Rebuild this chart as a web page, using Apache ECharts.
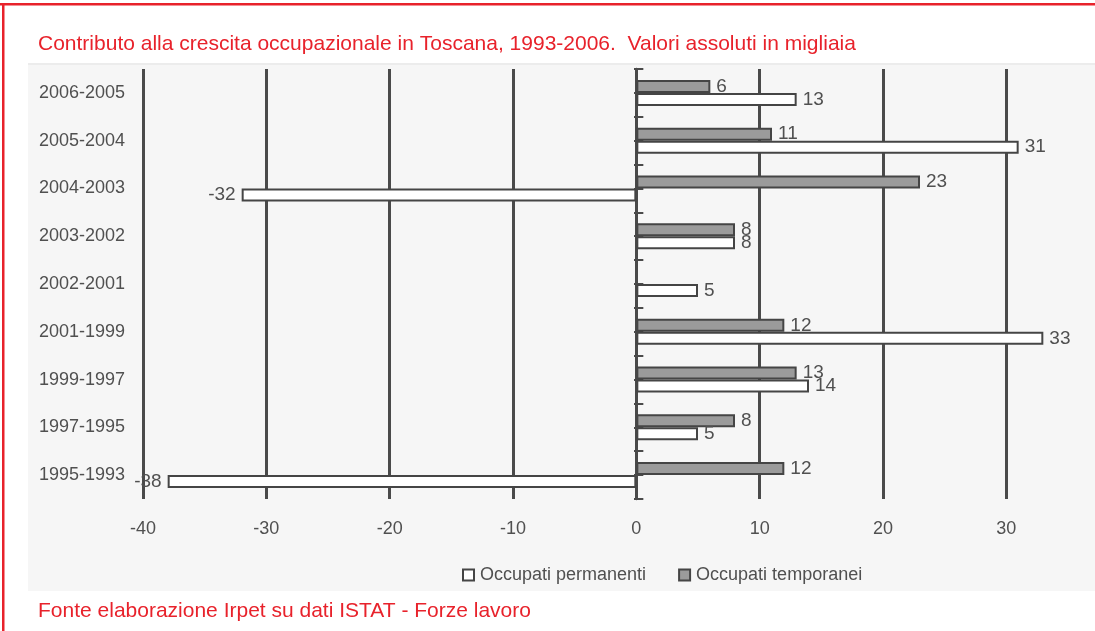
<!DOCTYPE html>
<html>
<head>
<meta charset="utf-8">
<script src="https://cdn.jsdelivr.net/npm/echarts@6/dist/echarts.min.js"></script>
<style>
html,body{margin:0;padding:0;background:#fff;}
#chart{width:1095px;height:631px;}
</style>
</head>
<body>
<div id="chart"></div>
<script>
const categories = ['2006-2005','2005-2004','2004-2003','2003-2002','2002-2001','2001-1999','1999-1997','1997-1995','1995-1993'];
const permanenti = [13, 31, -32, 8, 5, 33, 14, 5, -38];
const temporanei = [6, 11, 23, 8, null, 12, 13, 8, 12];
const seriesNames = ['Occupati permanenti', 'Occupati temporanei'];
const halfTicks = [0, 18];

const FONT = '"Liberation Sans",Arial,sans-serif';
const RED = '#e8222b';
const INK = '#505050';
const LINE = '#4a4a4a';

const GRID_LEFT = 143, GRID_RIGHT = 1068;

function toItems(arr) {
  return arr.map(v => v == null ? null : {
    value: v,
    label: { position: v < 0 ? 'left' : 'right' }
  });
}

const chart = echarts.init(document.getElementById('chart'), null, {renderer: 'canvas'});
chart.setOption({
  animation: false,
  backgroundColor: '#ffffff',
  title: [
    {
      text: 'Contributo alla crescita occupazionale in Toscana, 1993-2006.  Valori assoluti in migliaia',
      left: 33, top: 29,
      textStyle: { color: RED, fontSize: 21, fontWeight: 'normal', fontFamily: FONT }
    },
    {
      text: 'Fonte elaborazione Irpet su dati ISTAT - Forze lavoro',
      left: 33, top: 596,
      textStyle: { color: RED, fontSize: 21, fontWeight: 'normal', fontFamily: FONT }
    }
  ],
  graphic: [
    { type: 'rect', z: -100, silent: true, shape: { x: 28, y: 63, width: 1067, height: 528 }, style: { fill: '#f6f6f6' } },
    { type: 'rect', z: -99, silent: true, shape: { x: 28, y: 63, width: 1067, height: 2 }, style: { fill: '#ececec' } },
    { type: 'rect', z: 100, silent: true, shape: { x: 0, y: 3, width: 1095, height: 2.5 }, style: { fill: RED } },
    { type: 'rect', z: 100, silent: true, shape: { x: 2, y: 3, width: 2.5, height: 628 }, style: { fill: RED } }
  ],
  legend: {
    data: seriesNames,
    left: 457,
    top: 561,
    itemWidth: 11,
    itemHeight: 11,
    itemGap: 32,
    icon: 'rect',
    textStyle: { color: INK, fontSize: 18, fontFamily: FONT, padding: [0, 0, 0, 1] },
    selectedMode: false
  },
  grid: { left: GRID_LEFT, right: 1095 - GRID_RIGHT, top: 69, bottom: 631 - 499, containLabel: false },
  xAxis: {
    type: 'value',
    min: -40, max: 35, interval: 10,
    axisLine: { show: false },
    axisTick: { show: false },
    axisLabel: { color: INK, fontSize: 18, fontFamily: FONT, margin: 21, showMaxLabel: false },
    splitLine: { show: true, showMinLine: true, showMaxLine: false, lineStyle: { color: LINE, width: 3 } }
  },
  yAxis: [
    {
      type: 'category',
      data: categories,
      inverse: true,
      axisLine: { show: false, onZero: false },
      axisTick: { show: false },
      axisLabel: { color: INK, fontSize: 18, fontFamily: FONT, margin: 18 },
      splitLine: { show: false }
    },
    {
      type: 'value',
      min: halfTicks[0], max: halfTicks[1], interval: 1,
      axisLine: { show: true, onZero: true, onZeroAxisIndex: 0, lineStyle: { color: LINE, width: 2.5 } },
      axisTick: { show: true, inside: false, length: 7, lineStyle: { color: LINE, width: 2 } },
      axisLabel: { show: false },
      splitLine: { show: false }
    },
    {
      type: 'value',
      position: 'left',
      offset: -(634 - GRID_LEFT),
      min: halfTicks[0], max: halfTicks[1], interval: 1,
      axisLine: { show: false, onZero: false },
      axisTick: { show: true, inside: true, length: 8, lineStyle: { color: LINE, width: 2 } },
      axisLabel: { show: false },
      splitLine: { show: false }
    }
  ],
  series: [
    {
      name: seriesNames[1],
      type: 'bar',
      yAxisIndex: 0,
      data: toItems(temporanei),
      barWidth: 13,
      barGap: '0%',
      itemStyle: { color: '#9b9b9b', borderColor: '#454545', borderWidth: 2 },
      label: { show: true, color: INK, fontSize: 19, fontFamily: FONT, distance: 6 },
      z: 3
    },
    {
      name: seriesNames[0],
      type: 'bar',
      yAxisIndex: 0,
      data: toItems(permanenti),
      barWidth: 13,
      barGap: '0%',
      itemStyle: { color: '#ffffff', borderColor: '#454545', borderWidth: 2 },
      label: { show: true, color: INK, fontSize: 19, fontFamily: FONT, distance: 6 },
      z: 3
    }
  ]
});
</script>
</body>
</html>
